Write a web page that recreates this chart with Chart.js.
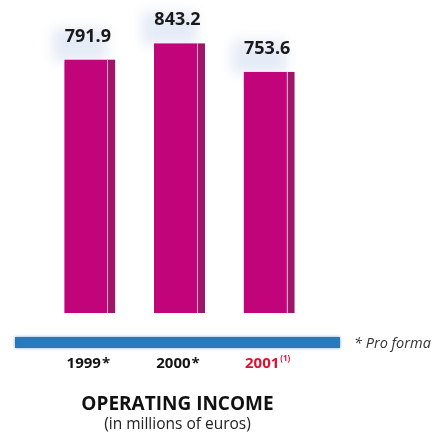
<!DOCTYPE html>
<html>
<head>
<meta charset="utf-8">
<script src="https://cdn.jsdelivr.net/npm/chart.js@4.4.1/dist/chart.umd.min.js"></script>
<style>
    html, body { margin: 0; padding: 0; background: #fff; }
    #wrap { width: 433px; height: 435px; position: relative; }
</style>
</head>
<body>
<div id="wrap"><canvas id="incomeChart"></canvas></div>
<script>
// operating income, millions of euros
const years = ['1999', '2000', '2001'];
const yearNotes = ['*', '*', '(1)'];
const income = [791.9, 843.2, 753.6];

const chartTitle = 'OPERATING INCOME';
const chartSubtitle = '(in millions of euros)';
const footNote = '* Pro forma';

const FONT = "'Open Sans', 'Liberation Sans', sans-serif";

// soft blue haze behind the value labels + bar tops
const hazePlugin = {
    id: 'haze',
    beforeDatasetsDraw(chart) {
        const ctx = chart.ctx;
        const meta = chart.getDatasetMeta(0);
        ctx.save();
        ctx.filter = 'blur(6px)';
        ctx.fillStyle = 'rgba(200, 212, 238, 0.45)';
        meta.data.forEach((bar) => {
            const left = bar.x - bar.width / 2;
            ctx.fillRect(left - 12, bar.y - 32, bar.width + 4, 34);
        });
        ctx.restore();

        // pinkish fringe on the bar edges
        ctx.save();
        ctx.shadowColor = 'rgba(240, 120, 210, 0.8)';
        ctx.shadowBlur = 3;
        ctx.shadowOffsetX = -1;
        ctx.shadowOffsetY = 1;
    },
    afterDatasetsDraw(chart) {
        const ctx = chart.ctx;
        ctx.restore();
        const meta = chart.getDatasetMeta(0);
        ctx.save();
        ctx.strokeStyle = 'rgba(250, 170, 225, 0.9)';
        ctx.lineWidth = 1;
        meta.data.forEach((bar) => {
            const seam = Math.round(bar.x + bar.width / 2 - 8) + 0.5;
            ctx.beginPath();
            ctx.moveTo(seam, bar.y);
            ctx.lineTo(seam, bar.base);
            ctx.stroke();
        });
        ctx.restore();
    }
};

// value labels, year labels, blue base band and captions
const textPlugin = {
    id: 'texts',
    afterDraw(chart) {
        const ctx = chart.ctx;
        const area = chart.chartArea;
        const meta = chart.getDatasetMeta(0);
        ctx.save();

        // base band
        ctx.shadowColor = 'rgba(40, 120, 190, 0.6)';
        ctx.shadowBlur = 3;
        ctx.fillStyle = '#2a79bd';
        ctx.fillRect(area.left - 30, area.bottom + 24, area.right - area.left + 56, 11);
        ctx.shadowBlur = 0;
        ctx.shadowColor = 'transparent';

        // values above the bars
        ctx.fillStyle = '#1a1a1a';
        ctx.font = 'bold 18px ' + FONT;
        ctx.textAlign = 'center';
        ctx.textBaseline = 'alphabetic';
        meta.data.forEach((bar, i) => {
            ctx.fillText(income[i].toFixed(1), bar.x - 2, bar.y - 18);
        });

        // year labels under the band
        meta.data.forEach((bar, i) => {
            const isLast = i === years.length - 1;
            const note = yearNotes[i];
            const mainFont = 'bold 15px ' + FONT;
            const noteFont = note === '*' ? mainFont : 'bold 8px ' + FONT;
            ctx.font = mainFont;
            const w1 = ctx.measureText(years[i]).width;
            ctx.font = noteFont;
            const w2 = ctx.measureText(note).width;
            let x = bar.x - 2 - (w1 + w2) / 2;
            const y = area.bottom + 55;
            ctx.textAlign = 'left';
            ctx.fillStyle = isLast ? '#e0102f' : '#141414';
            ctx.font = mainFont;
            ctx.fillText(years[i], x, y);
            ctx.font = noteFont;
            ctx.fillText(note, x + w1 + 1, note === '*' ? y : y - 7);
        });

        // footnote at the right of the band
        ctx.fillStyle = '#333';
        ctx.font = 'italic 14.5px ' + FONT;
        ctx.textAlign = 'left';
        ctx.fillText(footNote, 354, area.bottom + 35);

        // caption
        const cx = (area.left + area.right) / 2 - 2;
        ctx.textAlign = 'center';
        ctx.fillStyle = '#111';
        ctx.font = 'bold 19px ' + FONT;
        ctx.fillText(chartTitle, cx, area.bottom + 97);
        ctx.fillStyle = '#222';
        ctx.font = '15.5px ' + FONT;
        ctx.fillText(chartSubtitle, cx, area.bottom + 116);

        ctx.restore();
    }
};

const ctx = document.getElementById('incomeChart').getContext('2d');

const chart = new Chart(ctx, {
    type: 'bar',
    data: {
        labels: years,
        datasets: [{
            data: income,
            backgroundColor: '#c2047b',
            borderColor: '#9c1768',
            borderWidth: { top: 0, left: 0, bottom: 0, right: 8 },
            borderSkipped: false,
            barPercentage: 0.57,
            categoryPercentage: 1
        }]
    },
    options: {
        responsive: true,
        maintainAspectRatio: false,
        animation: false,
        layout: {
            padding: { left: 45, right: 119, top: 25, bottom: 122 }
        },
        scales: {
            x: { display: false },
            y: { display: false, min: 0, max: 900 }
        },
        plugins: {
            legend: { display: false },
            tooltip: { enabled: false }
        }
    },
    plugins: [hazePlugin, textPlugin]
});
</script>
</body>
</html>
